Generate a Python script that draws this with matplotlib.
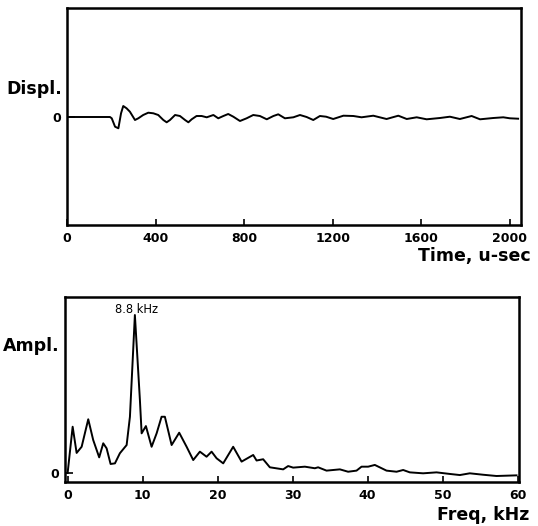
import matplotlib
matplotlib.use("Agg")
import matplotlib.pyplot as plt

plt.rcParams['font.family'] = ['DejaVu Sans']

# ---- Top: displacement vs time (u-sec) ----
time_us = [0, 194, 202, 217, 232, 244, 254, 269, 284, 307, 322, 344, 367, 390, 412,
           435, 450, 465, 488, 510, 533, 548, 563, 585, 608, 631, 661, 683, 706, 728,
           751, 781, 811, 841, 871, 902, 932, 954, 984, 1022, 1052, 1082, 1112, 1142,
           1170, 1202, 1248, 1293, 1330, 1383, 1443, 1496, 1534, 1579, 1624, 1684,
           1729, 1774, 1827, 1865, 1925, 1970, 2000, 2037]
displ = [0, 0, -1.3, -9.7, -11.3, 3.7, 11, 8.7, 5.3, -3, -1.3, 2, 4.3, 3.7, 2,
         -3, -5.3, -3, 2, 1, -3, -5.3, -2.3, 1, 1, -0.3, 2, -1.3, 1, 3,
         0.3, -4, -1.3, 2, 1, -2.3, 1, 2.7, -1.3, -0.3, 2, 0, -3, 1,
         0.3, -2, 1.3, 1, -0.3, 1.3, -2, 1.3, -2, -0.3, -2.3, -1,
         0.3, -2, 1, -2.3, -1, -0.3, -1.3, -1.7]
time_ticks = [0, 400, 800, 1200, 1600, 2000]

# ---- Bottom: amplitude spectrum vs frequency (kHz) ----
freq_khz = [0, 0.67, 1.2, 1.87, 2.75, 3.41, 4.21, 4.75, 5.2, 5.73, 6.31, 6.97, 7.87,
            8.31, 8.97, 9.64, 9.87, 10.44, 11.2, 11.87, 12.53, 12.97, 13.87, 14.88,
            15.87, 16.75, 17.64, 18.53, 19.2, 19.87, 20.75, 22.08, 23.2, 24.75, 25.2,
            26.08, 26.97, 28.75, 29.41, 30.08, 31.64, 32.97, 33.41, 34.53, 36.31,
            37.41, 38.53, 39.2, 40.08, 40.97, 42.53, 43.87, 44.75, 45.64, 47.41,
            49.2, 50.97, 52.31, 53.64, 55.41, 57.2, 58.53, 59.87]
ampl = [0, 29.3, 12.7, 16.6, 34.0, 20.9, 9.9, 18.8, 15.6, 5.7, 6.1, 12.5, 17.7,
        35.6, 100, 46.2, 25.1, 29.7, 16.6, 25.1, 35.6, 35.6, 17.7, 25.5,
        16.6, 8.2, 13.5, 10.3, 13.5, 9.3, 6.1, 16.6, 7.2, 11.4, 7.9,
        8.7, 3.6, 2.3, 4.4, 3.4, 4.0, 3.0, 3.6, 1.5, 2.3,
        0.8, 1.5, 4.0, 4.0, 5.1, 1.5, 0.8, 1.9, 0.4, -0.2,
        0.4, -0.6, -1.3, -0.2, -1.1, -1.9, -1.7, -1.5]
freq_ticks = [0, 10, 20, 30, 40, 50, 60]
peak_label = "8.8 kHz"

W, H = 538, 526
fig = plt.figure(figsize=(W / 100, H / 100), dpi=100)

def box(x0, y0, x1, y1):
    return [x0 / W, 1 - y1 / H, (x1 - x0) / W, (y1 - y0) / H]

tick_font = dict(fontsize=9, fontweight='bold')

# Top axes
ax1 = fig.add_axes(box(67, 8, 521, 225))
ax1.plot(time_us, displ, color='black', lw=1.4)
ax1.set_xlim(0, 2050)
ax1.set_ylim(-108, 109)
ax1.set_xticks(time_ticks)
ax1.set_xticklabels([str(t) for t in time_ticks], **tick_font)
ax1.set_yticks([0])
ax1.set_yticklabels(['0'], **tick_font)

# Bottom axes
ax2 = fig.add_axes(box(65, 297, 519, 482))
ax2.plot(freq_khz, ampl, color='black', lw=1.4)
ax2.set_xlim(-0.35, 60.2)
ax2.set_ylim(-5.7, 111.4)
ax2.set_xticks(freq_ticks)
ax2.set_xticklabels([str(f) for f in freq_ticks], **tick_font)
ax2.set_yticks([0])
ax2.set_yticklabels(['0'], **tick_font)
ipk = ampl.index(max(ampl))
ax2.text(freq_khz[ipk] + 0.2, 101.5, peak_label, ha='center', va='baseline', fontsize=8.3)

for ax in (ax1, ax2):
    for s in ax.spines.values():
        s.set_linewidth(1.8)
    ax.tick_params(axis='x', direction='in', length=4, width=1.2, pad=5)
    ax.tick_params(axis='y', direction='in', length=6, width=1.2, pad=4)

lab = dict(fontsize=12.5, fontweight='bold')
fig.text(62 / W, 1 - 94 / H, "Displ.", ha='right', va='baseline', **lab)
fig.text(60 / W, 1 - 351 / H, "Ampl.", ha='right', va='baseline', **lab)
fig.text(531 / W, 1 - 261 / H, "Time, u-sec", ha='right', va='baseline', **lab)
fig.text(529 / W, 1 - 520 / H, "Freq, kHz", ha='right', va='baseline', **lab)

fig.savefig("out.png", dpi=100)
